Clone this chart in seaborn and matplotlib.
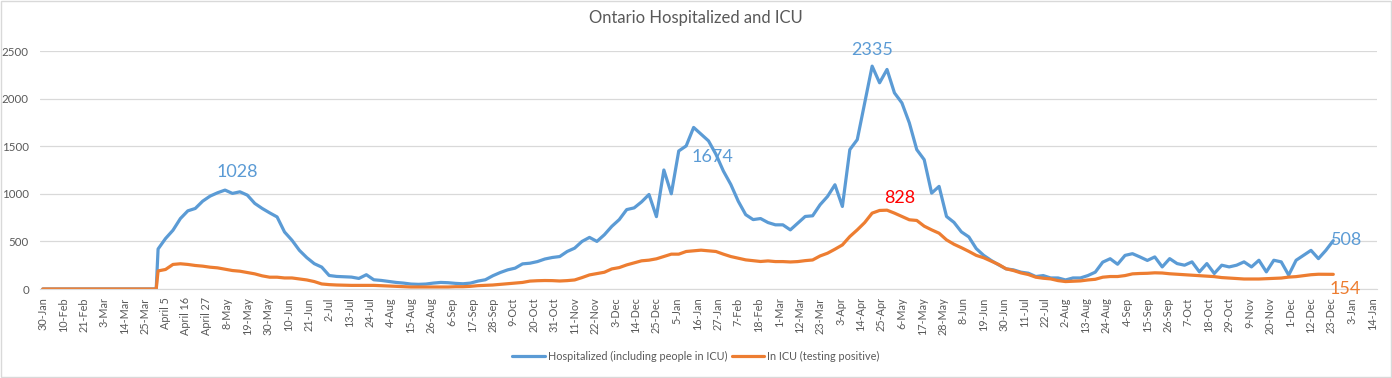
import pandas as pd
import numpy as np
import seaborn as sns
import matplotlib.pyplot as plt
import matplotlib.dates as mdates
from matplotlib.patches import Rectangle

# zero period before reporting began
pre_dates = ['2020-01-30', '2020-03-31']
pre_hosp = [0, 0]
pre_icu = [0, 0]

# values read every 4 days from 1-Apr-2020 to 24-Dec-2021
hosp = [420, 530, 617, 740, 821, 846, 923, 976, 1011, 1039,
        1004, 1021, 986, 899, 846, 800, 757, 599, 512, 406,
        329, 266, 230, 142, 132, 128, 125, 111, 150, 97,
        90, 80, 69, 62, 52, 49, 52, 62, 69, 66,
        59, 55, 62, 83, 97, 139, 173, 201, 219, 264,
        271, 288, 315, 331, 341, 394, 429, 500, 542, 500,
        570, 658, 729, 834, 852, 915, 993, 760, 1250, 1000,
        1450, 1503, 1697, 1626, 1556, 1415, 1239, 1098, 922, 781,
        729, 740, 698, 674, 674, 621, 691, 762, 769, 885,
        972, 1095, 867, 1464, 1569, 1955, 2341, 2166, 2306, 2060,
        1955, 1745, 1464, 1358, 1007, 1078, 762, 700, 600, 547,
        424, 353, 300, 254, 212, 201, 177, 166, 131, 141,
        116, 116, 95, 116, 116, 141, 177, 282, 318, 260,
        353, 371, 337, 300, 337, 232, 319, 267, 250, 285,
        180, 267, 163, 250, 232, 250, 285, 232, 302, 180,
        302, 285, 146, 302, 354, 406, 319, 406, 508]
icu = [190, 205, 258, 265, 258, 247, 240, 229, 222, 208,
       194, 187, 173, 159, 138, 124, 124, 116, 116, 106,
       95, 78, 53, 46, 42, 40, 38, 38, 38, 38,
       35, 31, 28, 24, 21, 21, 21, 21, 21, 21,
       24, 24, 28, 35, 38, 42, 49, 55, 62, 69,
       83, 87, 89, 88, 84, 88, 95, 120, 148, 162,
       176, 211, 225, 253, 275, 296, 303, 317, 341, 366,
       366, 394, 401, 408, 401, 394, 366, 341, 324, 306,
       298, 289, 295, 288, 288, 284, 288, 298, 305, 347,
       376, 418, 463, 551, 621, 698, 797, 825, 828, 797,
       762, 727, 720, 660, 621, 586, 516, 470, 434, 395,
       353, 328, 293, 258, 212, 194, 169, 152, 124, 113,
       106, 88, 78, 81, 85, 95, 102, 124, 131, 131,
       141, 159, 163, 165, 170, 168, 160, 155, 150, 145,
       140, 135, 130, 120, 115, 110, 105, 105, 105, 108,
       110, 115, 125, 130, 140, 150, 155, 155, 154]

tick_labels = ['30-Jan', '10-Feb', '21-Feb', '3-Mar', '14-Mar', '25-Mar', 'April 5', 'April 16',
               'April 27', '8-May', '19-May', '30-May', '10-Jun', '21-Jun', '2-Jul', '13-Jul',
               '24-Jul', '4-Aug', '15-Aug', '26-Aug', '6-Sep', '17-Sep', '28-Sep', '9-Oct',
               '20-Oct', '31-Oct', '11-Nov', '22-Nov', '3-Dec', '14-Dec', '25-Dec', '5-Jan',
               '16-Jan', '27-Jan', '7-Feb', '18-Feb', '1-Mar', '12-Mar', '23-Mar', '3-Apr',
               '14-Apr', '25-Apr', '6-May', '17-May', '28-May', '8-Jun', '19-Jun', '30-Jun',
               '11-Jul', '22-Jul', '2-Aug', '13-Aug', '24-Aug', '4-Sep', '15-Sep', '26-Sep',
               '7-Oct', '18-Oct', '29-Oct', '9-Nov', '20-Nov', '1-Dec', '12-Dec', '23-Dec',
               '3-Jan', '14-Jan']

lab_hosp = 'Hospitalized (including people in ICU)'
lab_icu = 'In ICU (testing positive)'

dates = pd.to_datetime(pre_dates).append(pd.date_range('2020-04-01', '2021-12-24', freq='4D'))
df = pd.concat([
    pd.DataFrame({'date': dates, 'n': pre_hosp + hosp, 'series': lab_hosp}),
    pd.DataFrame({'date': dates, 'n': pre_icu + icu, 'series': lab_icu}),
])

sns.set_style('white')
plt.rcParams['font.family'] = ['Lato', 'DejaVu Sans']
grey = '#595959'
blue = '#5b9bd5'
orange = '#ed7d31'

fig = plt.figure(figsize=(13.92, 3.78), dpi=100)
ax = fig.add_axes([40 / 1392, 89 / 378, 1337 / 1392, 238 / 378])
sns.lineplot(data=df, x='date', y='n', hue='series', palette=[blue, orange],
             linewidth=2.3, ax=ax, legend=True)

t0 = pd.Timestamp('2020-01-30')
ax.set_xlim(t0 - pd.Timedelta(days=1.5), t0 + pd.Timedelta(days=717.5))
ax.set_ylim(0, 2500)
ax.set_yticks(range(0, 2501, 500))
ax.yaxis.grid(True, color='#d9d9d9', linewidth=0.9)
ax.set_axisbelow(True)
ticks = pd.date_range('2020-01-30', '2022-01-14', freq='11D')
ax.set_xticks(ticks)
ax.set_xticklabels(tick_labels, rotation=90, fontsize=7.8, color=grey)
ax.tick_params(axis='y', labelsize=8.3, labelcolor=grey, length=0, pad=8)
ax.tick_params(axis='x', length=0, pad=6)
for s in ['top', 'right', 'left']:
    ax.spines[s].set_visible(False)
ax.spines['bottom'].set_color('#d9d9d9')
ax.set_xlabel('')
ax.set_ylabel('')

fig.text(0.5, 1 - 18 / 378, 'Ontario Hospitalized and ICU', ha='center', va='center',
         fontsize=12, color=grey)

def day(d):
    return t0 + pd.Timedelta(days=d)

ax.text(day(104.5), 1229, '1028', color=blue, fontsize=13, ha='center', va='center')
ax.text(day(360), 1387, '1674', color=blue, fontsize=13, ha='center', va='center')
ax.text(day(446), 2510, '2335', color=blue, fontsize=13, ha='center', va='center', clip_on=False)
ax.text(day(461), 955, '828', color='red', fontsize=13, ha='center', va='center')
ax.text(day(692.5), 511, '508', color=blue, fontsize=13, ha='left', va='center')
ax.text(day(692), 5, '154', color=orange, fontsize=13, ha='left', va='center', clip_on=False)

sns.move_legend(ax, 'center', bbox_to_anchor=(0.5, 1 - 356 / 378), bbox_transform=fig.transFigure,
                ncol=2, frameon=False, title=None, fontsize=7.8, handlelength=3,
                handletextpad=0.3, columnspacing=0.4)
for t in ax.get_legend().get_texts():
    t.set_color(grey)

fig.patches.append(Rectangle((0.001, 0.002), 0.998, 0.995, transform=fig.transFigure,
                             fill=False, edgecolor='#d9d9d9', linewidth=1))

fig.savefig('out.png', dpi=100)
